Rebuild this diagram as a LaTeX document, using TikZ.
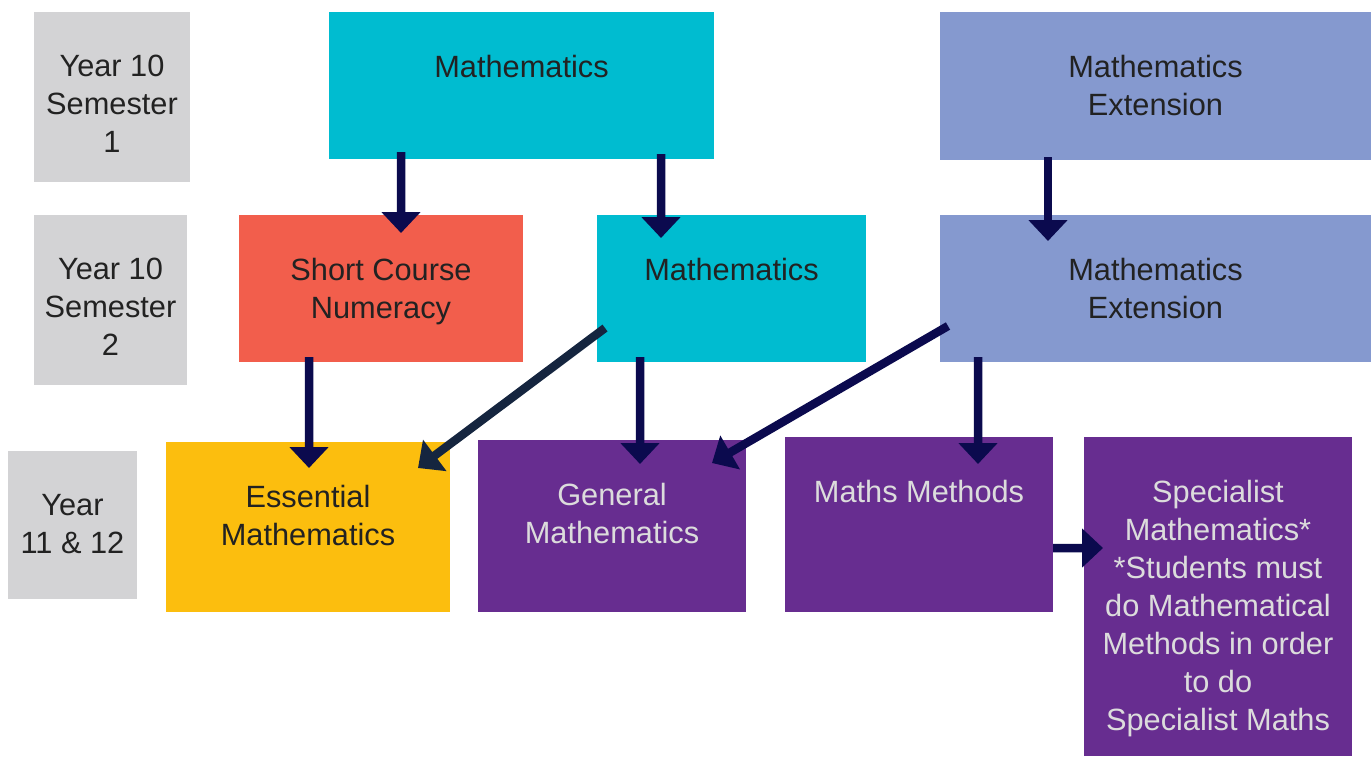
\documentclass[tikz,border=0pt]{standalone}
\usepackage{fontspec}
\setmainfont{Liberation Sans}
\usepackage{tikz}
\usetikzlibrary{positioning,arrows.meta}

\definecolor{semgrey}{HTML}{D3D3D5}
\definecolor{mathteal}{HTML}{00BCD0}
\definecolor{extblue}{HTML}{8599CF}
\definecolor{numred}{HTML}{F25E4C}
\definecolor{essyellow}{HTML}{FCBE0E}
\definecolor{vcepurple}{HTML}{672D90}
\definecolor{arrownavy}{HTML}{0B0A4E}
\definecolor{arrowslate}{HTML}{15253F}
\definecolor{darktext}{HTML}{222222}
\definecolor{lighttext}{HTML}{DCDCDC}

\begin{document}
\begin{tikzpicture}[
        box/.style={rectangle, inner sep=0pt, outer sep=0pt},
        txt/.style={inner sep=0pt, align=center, text=darktext, font=\fontsize{17.5}{21.6}\selectfont},
        lighttxt/.style={txt, text=lighttext},
        link/.style={line width=0.17cm, draw=arrownavy, -{Triangle[width=0.76cm,length=0.42cm]}}]
        \useasboundingbox (0,0) rectangle (27.42,-15.12);

        % Nodes for year labels
        \node [box, fill=semgrey, minimum width=3.12cm, minimum height=3.40cm] (sem1) at (2.24,-1.94) {};
        \node [box, fill=semgrey, minimum width=3.06cm, minimum height=3.40cm] (sem2) at (2.21,-6.00) {};
        \node [box, fill=semgrey, minimum width=2.58cm, minimum height=2.96cm] (senior) at (1.45,-10.50) {};

        % Nodes for year 10 subjects
        \node [box, fill=mathteal, minimum width=7.70cm, minimum height=2.94cm] (mathA) at (10.43,-1.71) {};
        \node [box, fill=extblue, minimum width=8.62cm, minimum height=2.96cm] (extA) at (23.11,-1.72) {};
        \node [box, fill=numred, minimum width=5.68cm, minimum height=2.94cm] (numeracy) at (7.62,-5.77) {};
        \node [box, fill=mathteal, minimum width=5.38cm, minimum height=2.94cm] (mathB) at (14.63,-5.77) {};
        \node [box, fill=extblue, minimum width=8.62cm, minimum height=2.94cm] (extB) at (23.11,-5.77) {};

        % Nodes for year 11 and 12 subjects
        \node [box, fill=essyellow, minimum width=5.68cm, minimum height=3.40cm] (essential) at (6.16,-10.54) {};
        \node [box, fill=vcepurple, minimum width=5.36cm, minimum height=3.44cm] (general) at (12.24,-10.52) {};
        \node [box, fill=vcepurple, minimum width=5.36cm, minimum height=3.50cm] (methods) at (18.38,-10.49) {};
        \node [box, fill=vcepurple, minimum width=5.36cm, minimum height=6.38cm] (specialist) at (24.36,-11.93) {};

        % Texts for year labels
        \node [txt, below=0.86cm of sem1.north] {Year 10\\Semester\\1};
        \node [txt, below=0.86cm of sem2.north] {Year 10\\Semester\\2};
        \node [txt, below=0.86cm of senior.north] {Year\\11 \& 12};

        % Texts for subjects
        \node [txt, below=0.86cm of mathA.north] {Mathematics};
        \node [txt, below=0.86cm of extA.north] {Mathematics\\Extension};
        \node [txt, below=0.86cm of numeracy.north] {Short Course\\Numeracy};
        \node [txt, below=0.86cm of mathB.north] {Mathematics};
        \node [txt, below=0.86cm of extB.north] {Mathematics\\Extension};
        \node [txt, below=0.86cm of essential.north] {Essential\\Mathematics};
        \node [lighttxt, below=0.86cm of general.north] {General\\Mathematics};
        \node [lighttxt, below=0.86cm of methods.north] {Maths Methods};
        \node [lighttxt, below=0.86cm of specialist.north] {Specialist\\Mathematics*\\*Students must\\do Mathematical\\Methods in order\\to do\\Specialist Maths};

        % Arrows between semesters
        \draw [link] ([xshift=1.44cm,yshift=0.14cm]mathA.south west) -- ([xshift=3.24cm,yshift=-0.36cm]numeracy.north west);
        \draw [link] ([xshift=6.64cm,yshift=0.10cm]mathA.south west) -- ([xshift=1.28cm,yshift=-0.46cm]mathB.north west);
        \draw [link] ([xshift=2.16cm,yshift=0.06cm]extA.south west) -- ([xshift=2.16cm,yshift=-0.52cm]extB.north west);
        \draw [link] ([xshift=1.40cm,yshift=0.10cm]numeracy.south west) -- ([xshift=2.86cm,yshift=-0.52cm]essential.north west);
        \draw [link, draw=arrowslate] ([xshift=0.16cm,yshift=0.68cm]mathB.south west) -- ([xshift=-0.64cm,yshift=-0.52cm]essential.north east);
        \draw [link] ([xshift=0.86cm,yshift=0.10cm]mathB.south west) -- ([xshift=3.24cm,yshift=-0.48cm]general.north west);
        \draw [link] ([xshift=0.16cm,yshift=0.72cm]extB.south west) -- ([xshift=-0.68cm,yshift=-0.46cm]general.north east);
        \draw [link] ([xshift=0.76cm,yshift=0.10cm]extB.south west) -- ([xshift=3.86cm,yshift=-0.54cm]methods.north west);
        \draw [link] ([yshift=-0.47cm]methods.east) -- ([xshift=0.38cm,yshift=-2.22cm]specialist.north west);
\end{tikzpicture}
\end{document}
